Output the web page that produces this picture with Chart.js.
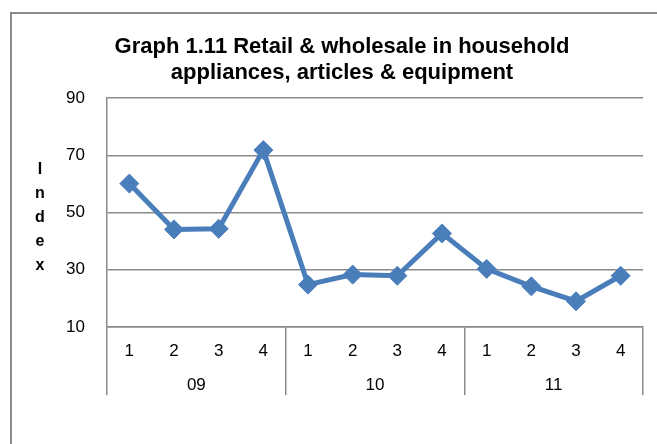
<!DOCTYPE html>
<html><head><meta charset="utf-8">
<script src="https://cdn.jsdelivr.net/npm/chart.js@4.4.0/dist/chart.umd.min.js"></script>
<style>
html,body{margin:0;padding:0;background:#fff;overflow:hidden;width:657px;height:444px;}
#frame{position:absolute;left:10px;top:12px;width:720px;height:520px;border:2px solid #8c8c8c;box-sizing:border-box;}
#c{position:absolute;left:12px;top:14px;}
</style></head><body>
<div id="frame"></div>
<canvas id="c" width="660" height="430"></canvas>
<script>
const quarters = ['1','2','3','4','1','2','3','4','1','2','3','4'];
const years = ['09','10','11'];
const indexValues = [60.1, 44.1, 44.3, 71.8, 24.8, 28.3, 27.9, 42.7, 30.3, 24.2, 19.0, 27.9];
const yTicks = [10, 30, 50, 70, 90];
const titleLines = ['Graph 1.11 Retail & wholesale in household', 'appliances, articles & equipment'];
const yTitleLetters = ['I', 'n', 'd', 'e', 'x'];

const FONT = "'Liberation Sans', Arial, sans-serif";
const GRID = '#8a8a8a';
const LINE = '#4a7ebb';

const yTitlePlugin = {
  id: 'yTitleStack',
  afterDraw(chart) {
    const ctx = chart.ctx;
    ctx.save();
    ctx.font = 'bold 16px ' + FONT;
    ctx.fillStyle = '#000';
    ctx.textAlign = 'center';
    ctx.textBaseline = 'alphabetic';
    yTitleLetters.forEach((ch, i) => ctx.fillText(ch, 28, 160 + i * 24));
    ctx.restore();
  }
};

new Chart(document.getElementById('c'), {
  type: 'line',
  data: {
    labels: quarters,
    datasets: [{
      data: indexValues,
      borderColor: LINE,
      backgroundColor: LINE,
      borderWidth: 5,
      pointStyle: 'rectRot',
      pointRadius: 9.5,
      pointHoverRadius: 9.5,
      pointBorderWidth: 1,
      pointBackgroundColor: LINE,
      pointBorderColor: LINE,
      tension: 0,
      fill: false
    }]
  },
  options: {
    responsive: false,
    animation: false,
    events: [],
    layout: { padding: { top: 0, left: 0, right: 0, bottom: 49 } },
    plugins: {
      legend: { display: false },
      tooltip: { enabled: false },
      title: {
        display: true,
        text: titleLines,
        color: '#000',
        font: { family: FONT, size: 22, weight: 'bold', lineHeight: '26px' },
        padding: { top: 20, bottom: 12 }
      }
    },
    scales: {
      x: {
        type: 'category',
        offset: true,
        grid: {
          offset: true,
          drawOnChartArea: false,
          drawTicks: true,
          tickLength: 24,
          lineWidth: 1.5,
          color: c => (c.index === undefined || c.index % 4 === 0) ? GRID : 'rgba(0,0,0,0)'
        },
        border: { display: true, color: GRID, width: 1.5 },
        ticks: {
          autoSkip: false, maxRotation: 0, minRotation: 0,
          mirror: true,
          padding: -34.2,
          color: '#000',
          font: { family: FONT, size: 17 }
        },
        afterFit: s => { s.height = 24; }
      },
      x2: {
        type: 'category',
        labels: years,
        position: 'bottom',
        offset: true,
        grid: {
          offset: true,
          drawOnChartArea: false,
          drawTicks: true,
          tickLength: 44,
          lineWidth: 1.5,
          color: GRID
        },
        border: { display: false },
        ticks: {
          autoSkip: false, maxRotation: 0, minRotation: 0,
          padding: -20.2,
          color: '#000',
          font: { family: FONT, size: 17 }
        },
        afterFit: s => { s.height = 44; }
      },
      y: {
        type: 'linear',
        min: 10,
        max: 90,
        afterBuildTicks: s => { s.ticks = yTicks.map(v => ({ value: v })); },
        grid: { drawTicks: false, color: GRID, lineWidth: 1.5 },
        border: { display: true, color: GRID, width: 1.5 },
        ticks: {
          padding: 22,
          color: '#000',
          font: { family: FONT, size: 17 }
        },
        afterFit: s => { s.width = 95; }
      },
      yPad: {
        type: 'linear',
        position: 'right',
        display: true,
        grid: { display: false, drawTicks: false },
        border: { display: false },
        ticks: { display: false },
        afterFit: s => { s.width = 29; }
      }
    }
  },
  plugins: [yTitlePlugin]
});
</script>
</body></html>
